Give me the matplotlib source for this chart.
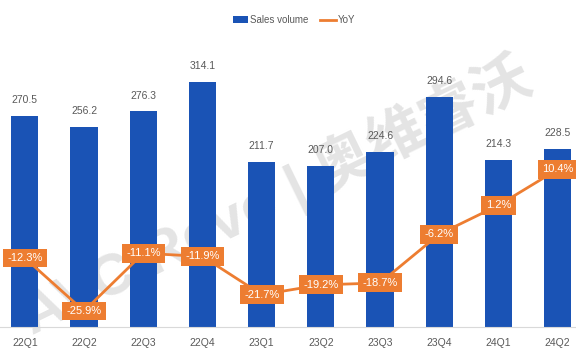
import matplotlib
matplotlib.use("Agg")
import matplotlib.pyplot as plt
import numpy as np

plt.rcParams['font.family'] = ['Liberation Sans', 'DejaVu Sans']

# data
quarters = ['22Q1', '22Q2', '22Q3', '22Q4', '23Q1', '23Q2', '23Q3', '23Q4', '24Q1', '24Q2']
sales = [270.5, 256.2, 276.3, 314.1, 211.7, 207.0, 224.6, 294.6, 214.3, 228.5]
yoy = [-12.3, -25.9, -11.1, -11.9, -21.7, -19.2, -18.7, -6.2, 1.2, 10.4]

bar_color = '#1A53B5'
line_color = '#ED7D31'
grey = '#595959'

fig = plt.figure(figsize=(5.76, 3.57), dpi=100)
ax = fig.add_axes([0, 30 / 357, 1, 312 / 357])
ax.set_zorder(1)
x = np.arange(len(quarters))

# watermark, behind the bars
fig.text(0.48, 0.45, 'AVC Revo | 奥维睿沃', rotation=26, fontsize=42, fontweight='bold',
         color='#e4e4e4', ha='center', va='center', zorder=0.5,
         family=['Liberation Sans', 'Noto Sans CJK SC'])

ax.bar(x, sales, width=0.46, color=bar_color, label='Sales volume', zorder=2)
for xi, v in zip(x, sales):
    ax.text(xi, v + 14, f'{v:.1f}', ha='center', va='bottom', fontsize=7.5, color=grey)

ax.set_ylim(0, 400)
ax.set_xlim(-0.42, 9.31)
ax.set_yticks([])
ax.set_xticks(x)
ax.set_xticklabels(quarters, fontsize=7.5, color=grey)
ax.tick_params(axis='x', length=0, pad=8)
for side in ['top', 'left', 'right']:
    ax.spines[side].set_visible(False)
ax.spines['bottom'].set_color('#D9D9D9')
ax.patch.set_alpha(0)

ax2 = ax.twinx()
ax2.set_zorder(2)
ax2.patch.set_alpha(0)
ax2.plot(x, yoy, color=line_color, lw=2, label='YoY', zorder=3)
ax2.set_ylim(-30, 50)
ax2.set_yticks([])
for side in ['top', 'left', 'right', 'bottom']:
    ax2.spines[side].set_visible(False)
for xi, v in zip(x, yoy):
    ax2.text(xi, v, f'{v:.1f}%', ha='center', va='center', fontsize=8, color='white',
             bbox=dict(boxstyle='square,pad=0.4', fc=line_color, ec='none'), zorder=4)

h1, l1 = ax.get_legend_handles_labels()
h2, l2 = ax2.get_legend_handles_labels()
fig.legend(h1 + h2, l1 + l2, loc='center', bbox_to_anchor=(294 / 576, 1 - 20 / 357),
           ncol=2, frameon=False, fontsize=7, labelcolor=grey,
           handlelength=1.6, handleheight=0.6, handletextpad=0.2, columnspacing=1.2)

fig.savefig('out.png', dpi=100)
